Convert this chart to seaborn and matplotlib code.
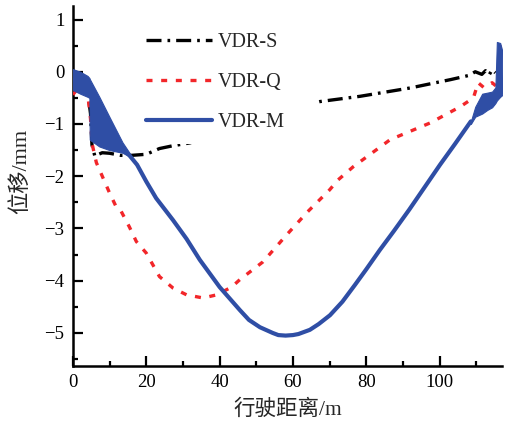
import numpy as np
import pandas as pd
import matplotlib
matplotlib.use("Agg")
import matplotlib.pyplot as plt
from matplotlib.patches import Rectangle
import seaborn as sns

# Vertical displacement of the rail along the driving distance
s_x = [0, 1, 2, 3, 4, 4.8, 5.2, 6, 7, 8, 10, 13, 16, 20, 23.6, 27, 32, 40, 50,
       60, 67.4, 78.3, 92, 103, 108, 109.7, 111.5, 112.5, 113.5, 114.3, 115.2]
s_y = [-0.35, -0.32, -0.28, -0.28, -0.35, -0.8, -1.4, -1.62, -1.58, -1.55,
       -1.56, -1.6, -1.6, -1.58, -1.47, -1.42, -1.36, -1.15, -0.9, -0.7, -0.57,
       -0.47, -0.31, -0.15, -0.07, 0.0, -0.05, 0.02, -0.06, 0.04, -0.02]

q_x = [0, 1, 2, 3, 4, 4.8, 5.3, 6.4, 8.2, 10, 11.9, 13, 15.4, 17.3, 20, 23.6,
       27.3, 31, 35.5, 39.2, 43.3, 45.5, 51.8, 58.3, 64, 70, 72.3, 76.4, 86.5,
       97.4, 105.6, 109.2, 110.5, 112, 114.3, 115.5, 116.6, 117.1]
q_y = [-0.44, -0.35, -0.3, -0.3, -0.4, -0.9, -1.4, -1.74, -2.03, -2.32, -2.6,
       -2.65, -2.97, -3.25, -3.47, -3.92, -4.14, -4.27, -4.33, -4.27, -4.12,
       -3.98, -3.64, -3.12, -2.68, -2.26, -2.07, -1.82, -1.30, -0.98, -0.67,
       -0.5, -0.21, -0.3, -0.21, -0.28, -0.15, 0.5]

m_x = [0, 2, 4, 4.6, 7.2, 10, 12.7, 15.4, 17.5, 20, 22.7, 27.3, 31, 34.6, 40,
       45.5, 48, 51, 54.5, 56, 58, 60, 61.5, 64.6, 67, 70.1, 73.5, 76.9, 80,
       83.7, 87.5, 91.7, 96, 100.1, 104.2, 106.9, 108.5]
m_y = [-0.15, -0.2, -0.28, -0.3, -0.95, -1.2, -1.42, -1.6, -1.78, -2.1, -2.42,
       -2.84, -3.2, -3.6, -4.12, -4.56, -4.75, -4.89, -5.0, -5.04, -5.05, -5.04,
       -5.02, -4.94, -4.83, -4.66, -4.4, -4.08, -3.78, -3.41, -3.05, -2.64,
       -2.2, -1.78, -1.38, -1.11, -0.95]

# Envelope of the oscillating VDR-M response at entry and exit
band1_x = [0, 2, 4, 4.5, 4.6, 7.2, 10, 13.5, 15.4, 16.3, 17.5]
band1_hi = [0.05, 0.0, -0.08, -0.12, -0.14, -0.48, -0.87, -1.35, -1.55, -1.66, -1.78]
band1_lo = [-0.35, -0.42, -0.48, -0.5, -1.3, -1.43, -1.5, -1.55, -1.62, -1.69, -1.8]

band2_x = [108.5, 109.7, 111.6, 113, 114.3, 115.2, 115.6, 116.5, 117.0, 117.2]
band2_hi = [-0.95, -0.67, -0.42, -0.4, -0.38, -0.3, 0.57, 0.55, 0.42, -0.4]
band2_lo = [-1.0, -0.86, -0.8, -0.73, -0.68, -0.6, -0.55, -0.48, -0.45, -0.4]

x_ticks = [0, 20, 40, 60, 80, 100]
y_ticks = [-5, -4, -3, -2, -1, 0, 1]

sns.set_theme(style="ticks")
plt.rcParams["font.family"] = ["Liberation Serif", "Noto Sans CJK SC"]
plt.rcParams["axes.unicode_minus"] = True

BLUE = "#2f4ea5"
RED = "#f2262a"

fig = plt.figure(figsize=(5.17, 4.23), dpi=100)
ax = fig.add_axes([0.141, 0.135, 0.83, 0.851])

df_s = pd.DataFrame({"x": s_x, "y": s_y})
df_q = pd.DataFrame({"x": q_x, "y": q_y})
df_m = pd.DataFrame({"x": m_x, "y": m_y})

sns.lineplot(data=df_s, x="x", y="y", ax=ax, color="black", lw=2.4,
             label="VDR-S", estimator=None, sort=False, zorder=3)
ax.lines[-1].set_dashes((4.5, 1.8, 0.8, 1.8))
sns.lineplot(data=df_q, x="x", y="y", ax=ax, color=RED, lw=2.4,
             label="VDR-Q", estimator=None, sort=False, zorder=3)
ax.lines[-1].set_dashes((1.8, 2.6))
sns.lineplot(data=df_m, x="x", y="y", ax=ax, color=BLUE, lw=3.0,
             label="VDR-M", estimator=None, sort=False, zorder=4)

ax.fill_between(band1_x, band1_lo, band1_hi, color=BLUE, lw=0.8, zorder=4)
ax.fill_between(band2_x, band2_lo, band2_hi, color=BLUE, lw=0.8, zorder=4)

ax.set_xlim(0, 117)
ax.set_ylim(-5.63, 1.26)
ax.set_xticks(x_ticks)
ax.set_xticks(np.arange(10, 117, 20), minor=True)
ax.set_yticks(y_ticks)
ax.set_yticks(np.arange(-5.5, 1.2, 1.0), minor=True)
ax.set_yticklabels([f"\u2212{abs(v)}" if v < 0 else str(v) for v in y_ticks])

for side in ("top", "right"):
    ax.spines[side].set_visible(False)
for side in ("left", "bottom"):
    ax.spines[side].set_linewidth(1.8)
    ax.spines[side].set_color("black")

ax.tick_params(which="major", direction="in", length=7, width=1.6,
               labelsize=13.5, colors="black", pad=6)
ax.tick_params(which="minor", direction="in", length=3.5, width=1.6, colors="black")

ax.set_xlabel("行驶距离/m", fontsize=15.5, labelpad=6)
ax.set_ylabel("位移/mm", fontsize=16)
ax.yaxis.set_label_coords(-0.098, 0.54)

# white panel behind the legend entries
ax.add_patch(Rectangle((0.1515, 0.6167), 0.4195, 0.339, transform=ax.transAxes,
                       facecolor="white", edgecolor="none", zorder=5))

leg = ax.legend(loc="upper left", bbox_to_anchor=(0.127, 0.975), fontsize=14.5,
                handlelength=3.3, handletextpad=0.3, labelspacing=1.03,
                frameon=False, borderpad=0.4)
leg.set_zorder(10)

fig.savefig("out.png", dpi=100)
